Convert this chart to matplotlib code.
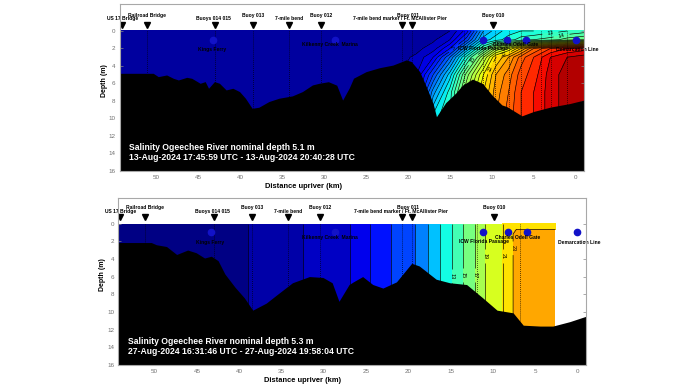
"""
Salinity sections, Ogeechee River, two survey days
"""

import matplotlib.pyplot as plt
import numpy as np

plt.rcParams['font.family'] = ['Liberation Sans', 'DejaVu Sans']

# landmarks along the river (km upriver)
marker_km = [54.1, 51.2, 43.0, 38.5, 34.2, 30.4, 20.7, 19.5, 9.8]
label_names = ['US 17 Bridge', 'Railroad Bridge', 'Buoys 014 015', 'Buoy 013', '7-mile bend',
               'Buoy 012', '7-mile bend marker / Ft. McAllister Pier', 'Buoy 011', 'Buoy 010']
label_km = [54.0, 51.1, 43.2, 38.5, 34.2, 30.4, 20.9, 20.0, 9.8]
label_depth = [-1.4, -1.8, -1.4, -1.8, -1.4, -1.8, -1.4, -1.8, -1.8]

# sampling stations (blue dots)
station_km = [43.3, 28.7, 11.1, 8.2, 5.9, 0.0]
station_names = ['Kings Ferry', 'Kilkenny Creek  Marina', 'ICW Florida Passage',
                 'Charles Odell Gate', 'Demarcation Line']
station_label_km = [43.4, 29.3, 11.0, 7.1, -0.2]
station_label_depth = [2.1, 1.6, 2.0, 1.6, 2.1]

# ---- survey 1: 13-Aug-2024 ----
top_title = ['Salinity Ogeechee River nominal depth 5.1 m',
             '13-Aug-2024 17:45:59 UTC - 13-Aug-2024 20:40:28 UTC']
top_grid_km = [54.4, 22, 19, 17, 15, 13, 11, 9.5, 8, 6.5, 5, 3, 1, -1]
top_grid_depth = [0, 1, 2, 3, 5, 7, 10, 16]
top_salinity = [
    [0.1, 0.1, 0.1, 0.1, 0.1, 0.1, 0.1, 0.1],
    [0.2, 0.2, 0.3, 0.4, 0.5, 0.6, 0.6, 0.6],
    [0.3, 0.4, 0.7, 1.2, 2.0, 3.0, 3.0, 3.0],
    [0.5, 0.8, 1.5, 3.0, 6.0, 8.5, 11.5, 11.5],
    [1.0, 2.0, 4.0, 7.0, 10.5, 12.5, 13.0, 13.0],
    [3.5, 5.5, 9.0, 12.5, 16.5, 18.0, 18.0, 18.0],
    [9.0, 10.5, 14.0, 18.0, 21.0, 22.0, 22.5, 22.5],
    [10.5, 11.5, 18.0, 22.0, 24.0, 24.5, 25.0, 25.0],
    [11.5, 12.5, 20.0, 24.0, 25.5, 26.0, 26.5, 26.5],
    [12.0, 13.5, 23.0, 26.5, 27.5, 28.0, 28.0, 28.0],
    [12.0, 14.0, 26.0, 28.0, 28.5, 29.0, 29.0, 29.0],
    [12.5, 14.5, 28.0, 30.0, 30.5, 30.5, 30.5, 30.5],
    [13.0, 15.5, 29.0, 31.0, 31.5, 31.5, 31.5, 31.5],
    [13.5, 16.0, 29.5, 31.5, 32.0, 32.0, 32.0, 32.0],
]
top_bed_km = [54.4, 50.4, 49.8, 48.8, 48.0, 47.4, 46.4, 45.8, 44.8, 44.2, 43.8, 43.1, 42.5,
              41.7, 40.9, 40.1, 39.4, 38.6, 37.8, 36.6, 35.4, 33.8, 32.6, 31.4, 30.6, 29.5,
              28.5, 27.8, 27.0, 26.5, 25.0, 23.4, 21.8, 20.2, 19.6, 18.6, 17.8, 17.0, 16.6,
              15.5, 14.3, 13.5, 12.3, 11.1, 10.0, 8.8, 8.2, 6.4, 5.0, 3.0, 0.7, -1.0]
top_bed_depth = [4.84, 4.84, 5.22, 5.03, 5.41, 5.6, 5.3, 5.41, 5.98, 5.79, 6.55, 5.79, 5.98,
                 6.74, 6.55, 6.93, 7.69, 8.84, 8.72, 8.07, 7.69, 7.42, 6.93, 6.17, 5.98, 5.8,
                 6.2, 7.9, 6.5, 5.4, 4.65, 4.2, 3.9, 3.3, 3.5, 4.65, 6.4, 8.3, 9.8,
                 8.2, 7.1, 6.2, 5.5, 6.0, 7.3, 8.45, 8.65, 9.7, 9.2, 8.7, 8.3, 7.9]
top_casts = [51.2, 43.0, 38.5, 34.2, 30.4, 20.7, 19.5, 13.3, 11.1, 9.6, 7.9, 6.5, 4.1, 2.9, 1.0]
top_label_pos = [(3.0, 0.3), (1.7, 0.45), (12.4, 3.2), (10.3, 4.2), (8.6, 2.6), (14.5, 2.0)]

# ---- survey 2: 27-Aug-2024 ----
bot_title = ['Salinity Ogeechee River nominal depth 5.3 m',
             '27-Aug-2024 16:31:46 UTC - 27-Aug-2024 19:58:04 UTC']
bot_grid_km = [54.3, 39, 32.5, 26.9, 24.5, 22.1, 19.2, 17.7, 16.2, 14.8, 13.5, 12.1,
               10.9, 8.8, 7.6, 7.2, 2.6]
bot_grid_depth = [0, 0.6, 1.2, 16]
bot_salinity = [
    [0.2, 0.2, 0.2, 0.2],
    [0.5, 0.5, 0.5, 0.5],
    [1.0, 1.0, 1.0, 1.0],
    [2.0, 2.0, 2.0, 2.0],
    [3.5, 3.5, 3.5, 3.5],
    [5.0, 5.0, 5.0, 5.0],
    [7.0, 7.0, 7.0, 7.0],
    [9.0, 9.0, 9.0, 9.0],
    [11.0, 11.0, 11.0, 11.0],
    [13.0, 13.0, 13.0, 13.0],
    [15.0, 15.0, 15.0, 15.0],
    [17.0, 17.0, 17.0, 17.0],
    [19.0, 19.0, 19.0, 19.0],
    [21.0, 21.0, 21.0, 21.0],
    [23.0, 23.0, 23.0, 23.0],
    [22.6, 22.9, 24.0, 24.0],
    [22.6, 22.9, 24.0, 24.0],
]
bot_bed_km = [54.3, 50.4, 49.8, 48.6, 47.4, 46.1, 45.1, 44.1, 43.3, 42.5, 41.7, 40.5, 39.4,
              38.4, 36.8, 35.6, 33.7, 31.7, 30.1, 29.0, 28.2, 27.0, 26.5, 25.4, 24.2, 23.0,
              21.4, 19.6, 18.7, 16.7, 15.1, 13.1, 11.2, 9.5, 7.6, 6.4, 4.4, 2.9, 0.9, -1.0]
bot_bed_depth = [2.15, 2.15, 2.4, 2.6, 3.5, 3.0, 3.3, 3.9, 3.7, 4.2, 5.7, 7.2, 8.4,
                 9.8, 9.0, 8.1, 6.7, 6.0, 6.1, 6.7, 8.8, 6.9, 6.6, 6.0, 6.9, 7.3,
                 6.6, 4.5, 4.8, 6.3, 6.7, 6.9, 8.4, 9.8, 10.1, 11.5, 11.6, 11.6, 11.1, 10.5]
bot_casts = [51.2, 43.0, 38.5, 34.2, 30.4, 20.7, 19.5, 11.9, 6.8]
bot_label_pos = [(15.0, 5.9), (13.7, 5.8), (12.4, 5.8), (10.9, 3.7), (9.0, 3.7), (7.5, 2.8)]

fig = plt.figure(figsize=(6.96, 3.85), dpi=100)
ax_top = fig.add_axes([0.172, 0.556, 0.667, 0.434])
ax_bot = fig.add_axes([0.170, 0.052, 0.672, 0.434])


def draw_panel(ax, grid_km, grid_depth, sal, fill_levels, line_levels,
               label_pos, bed_km, bed_depth, casts, title, xlim, ylim):
    X, Y = np.meshgrid(grid_km, grid_depth)
    Z = np.array(sal).T
    ax.contourf(X, Y, Z, levels=fill_levels, cmap='jet', vmin=-0.5, vmax=33, zorder=1)
    cs = ax.contour(X, Y, Z, levels=line_levels, colors='black', linewidths=0.45, zorder=1.5)
    ax.clabel(cs, manual=label_pos, fontsize=4, inline=True, fmt='%g')

    # cast tracks
    for c in casts:
        ax.plot([c, c], [0, 16], color='black', ls=':', lw=0.55, zorder=2)

    # bathymetry
    ax.fill_between(bed_km, bed_depth, 17, color='black', lw=0, zorder=3)

    # landmarks
    ax.plot(marker_km, [-0.7] * len(marker_km), 'v', color='black', ms=4.5, zorder=5)
    for name, x, y in zip(label_names, label_km, label_depth):
        ax.text(x, y, name, ha='center', va='center', fontsize=3.6, fontweight='bold', zorder=5)

    # stations
    ax.plot(station_km, [1.0] * len(station_km), 'o', color='#1212c8', ms=4.5, zorder=4)
    for name, x, y in zip(station_names, station_label_km, station_label_depth):
        ax.text(x, y, name, ha='center', va='center', fontsize=3.6, fontweight='bold',
                color='black', zorder=5)

    ax.text(0.021, 0.14, title[0], transform=ax.transAxes, color='white', fontsize=6.2,
            fontweight='bold', va='center', zorder=6)
    ax.text(0.021, 0.082, title[1], transform=ax.transAxes, color='white', fontsize=6.2,
            fontweight='bold', va='center', zorder=6)

    ax.set_xlim(xlim)
    ax.set_ylim(ylim)
    ax.set_xticks([50, 45, 40, 35, 30, 25, 20, 15, 10, 5, 0])
    ax.set_yticks(np.arange(0, 17, 2))
    ax.tick_params(direction='in', length=2, width=0.5, color='#888888', labelsize=4.5,
                   labelcolor='#707070', right=True, pad=3)
    for sp in ax.spines.values():
        sp.set_color('#a8a8a8')
        sp.set_linewidth(0.8)
        sp.set_zorder(7)

    ax.set_ylabel('Depth (m)', fontsize=5, fontweight='bold')
    ax.yaxis.set_label_coords(-0.026, 0.54)
    ax.annotate('Distance upriver (km)', xy=(32.5, -0.095), xycoords=('data', 'axes fraction'),
                ha='center', va='center', fontsize=5.4, fontweight='bold', annotation_clip=False)


draw_panel(ax_top, top_grid_km, top_grid_depth, top_salinity,
           np.arange(-1, 34, 1), np.arange(1, 33, 1),
           top_label_pos, top_bed_km, top_bed_depth, top_casts, top_title,
           (54.4, -1.0), (16, -3.1))

bot_levels = [-1, 0.5, 1, 2, 3.5, 5, 7, 9, 11, 13, 15, 17, 19, 21, 23, 25, 27]
draw_panel(ax_bot, bot_grid_km, bot_grid_depth, bot_salinity,
           bot_levels, bot_levels[1:],
           bot_label_pos, bot_bed_km, bot_bed_depth, bot_casts, bot_title,
           (54.3, -1.03), (16, -2.9))

plt.savefig('out.png', dpi=100, facecolor='white')
